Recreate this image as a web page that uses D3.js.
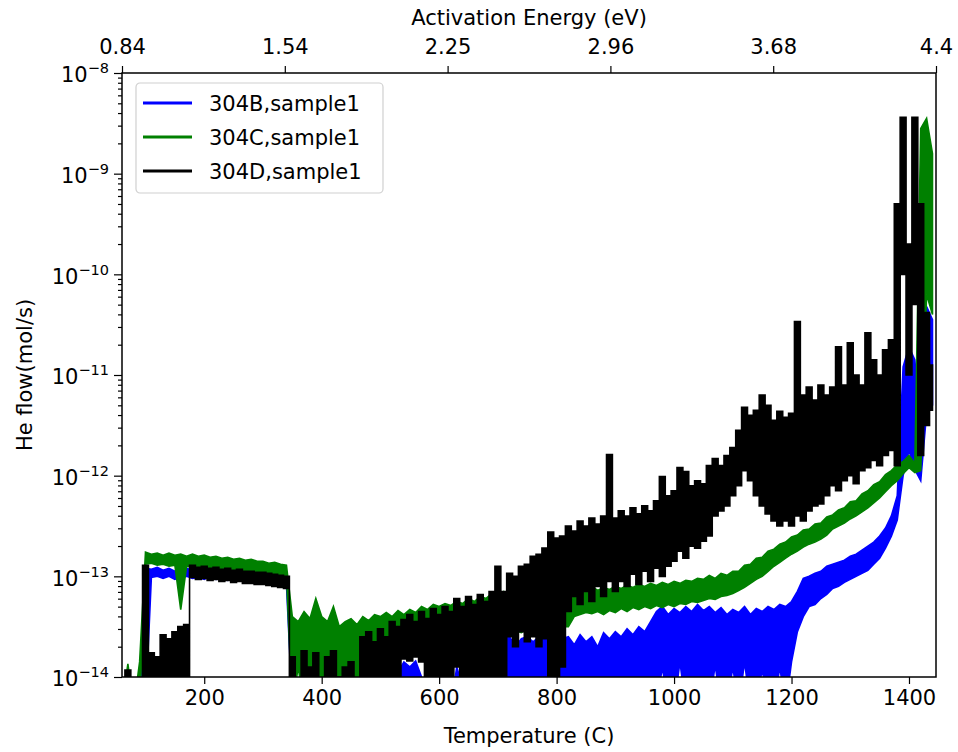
<!DOCTYPE html>
<html>
<head>
<meta charset="utf-8">
<script src="https://cdn.jsdelivr.net/npm/d3@7"></script>
<style>
body { margin: 0; background: #fff; }
text { font-family: "DejaVu Sans", sans-serif; fill: #000; }
</style>
</head>
<body>
<script>
// temperatures (C), one sample every 10 degrees
var temps = d3.range(60, 1441, 10);

// He flow as log10(mol/s); lo / hi = bottom and top of the noisy trace
var blueHi = [
 -14.3,-14.3,-14.3,-14.3,-12.92,-12.93,-12.91,-12.94,-12.92,-12.95,
 -12.93,-12.92,-12.94,-12.93,-12.95,-12.92,-12.95,-12.94,-12.96,-12.94,
 -12.96,-12.95,-12.97,-12.95,-12.98,-12.97,-12.99,-12.98,-13.0,-13.86,
 -14.3,-14.1,-13.73,-14.2,-13.95,-14.3,-14.05,-14.3,-14.1,-14.3,
 -14.0,-14.2,-14.3,-14.05,-14.3,-14.1,-14.3,-13.95,-13.85,-13.9,
 -13.84,-14.0,-14.3,-14.1,-14.3,-14.05,-14.3,-13.9,-14.1,-14.3,
 -14.0,-14.2,-14.05,-14.3,-14.0,-13.62,-13.6,-13.7,-13.62,-13.6,
 -13.65,-13.6,-13.62,-13.58,-13.6,-13.62,-13.6,-13.68,-13.58,-13.65,
 -13.6,-13.7,-13.56,-13.62,-13.55,-13.6,-13.52,-13.58,-13.5,-13.55,
 -13.45,-13.35,-13.3,-13.38,-13.32,-13.36,-13.3,-13.35,-13.28,-13.34,
 -13.3,-13.36,-13.31,-13.38,-13.33,-13.36,-13.3,-13.38,-13.32,-13.35,
 -13.3,-13.33,-13.28,-13.3,-13.25,-13.15,-13.02,-13.0,-12.97,-12.95,
 -12.9,-12.88,-12.86,-12.84,-12.8,-12.78,-12.74,-12.7,-12.66,-12.6,
 -12.52,-12.4,-12.2,-10.92,-10.72,-10.85,-11.6,-10.32,-10.45
];
var blueLo = [
 -14.3,-14.3,-14.3,-14.3,-14.3,-13.01,-13.0,-13.02,-13.0,-13.03,
 -13.01,-13.0,-13.02,-13.01,-13.03,-13.0,-13.03,-13.02,-13.04,-13.02,
 -13.04,-13.03,-13.05,-13.03,-13.06,-13.05,-13.07,-13.06,-13.08,-14.3,
 -14.3,-14.3,-14.3,-14.3,-14.3,-14.3,-14.3,-14.3,-14.3,-14.3,
 -14.3,-14.3,-14.3,-14.3,-14.3,-14.3,-14.3,-14.3,-14.3,-14.3,
 -14.3,-14.3,-14.3,-14.3,-14.3,-14.3,-14.3,-14.3,-14.3,-14.3,
 -14.3,-14.3,-14.3,-14.3,-14.3,-14.3,-14.3,-14.3,-14.3,-14.3,
 -14.3,-14.3,-14.3,-14.3,-14.3,-14.3,-14.3,-14.3,-14.3,-14.3,
 -14.3,-14.3,-14.3,-14.3,-14.3,-14.3,-14.3,-14.3,-14.3,-14.3,
 -14.3,-14.3,-13.9,-14.3,-14.3,-13.85,-14.3,-14.3,-13.95,-14.3,
 -14.3,-13.88,-14.3,-14.3,-13.9,-14.3,-13.85,-14.3,-14.3,-13.92,
 -14.3,-14.3,-13.9,-14.3,-13.85,-13.55,-13.4,-13.3,-13.28,-13.22,
 -13.18,-13.12,-13.1,-13.06,-13.03,-13.0,-12.97,-12.94,-12.88,-12.82,
 -12.72,-12.6,-12.44,-12.0,-11.75,-11.94,-12.05,-11.38,-11.3
];
var greenHi = [
 -14.3,-13.87,-14.3,-13.85,-12.76,-12.78,-12.77,-12.79,-12.77,-12.79,
 -12.78,-12.8,-12.78,-12.8,-12.79,-12.81,-12.8,-12.82,-12.81,-12.83,
 -12.82,-12.84,-12.83,-12.85,-12.85,-12.87,-12.86,-12.88,-12.89,-13.4,
 -13.45,-13.35,-13.42,-13.22,-13.4,-13.45,-13.3,-13.5,-13.45,-13.42,
 -13.48,-13.4,-13.44,-13.38,-13.4,-13.36,-13.4,-13.34,-13.38,-13.33,
 -13.36,-13.3,-13.33,-13.28,-13.3,-13.27,-13.29,-13.25,-13.27,-13.22,
 -13.25,-13.2,-13.22,-13.17,-13.18,-13.15,-13.19,-13.16,-13.2,-13.17,
 -13.18,-13.15,-13.2,-13.14,-13.17,-13.12,-13.08,-13.12,-13.1,-13.13,
 -13.1,-13.14,-13.11,-13.13,-13.1,-13.12,-13.09,-13.11,-13.08,-13.1,
 -13.07,-13.09,-13.06,-13.08,-13.05,-13.07,-13.04,-13.05,-13.02,-13.03,
 -12.99,-13.02,-12.97,-12.99,-12.95,-12.95,-12.89,-12.88,-12.82,-12.81,
 -12.75,-12.73,-12.68,-12.66,-12.61,-12.59,-12.54,-12.53,-12.48,-12.47,
 -12.41,-12.39,-12.34,-12.32,-12.26,-12.25,-12.18,-12.15,-12.09,-12.06,
 -11.99,-11.95,-11.89,-11.86,-11.8,-11.88,-8.55,-8.45,-8.8
];
var greenLo = [
 -14.3,-14.3,-14.3,-14.3,-12.88,-12.87,-12.89,-12.88,-12.9,-12.89,
 -13.33,-12.9,-12.91,-12.9,-12.92,-12.91,-12.93,-12.92,-12.94,-12.93,
 -12.95,-12.94,-12.96,-12.95,-12.97,-12.97,-12.98,-12.99,-13.0,-14.3,
 -13.9,-14.3,-14.0,-14.3,-14.3,-13.95,-14.3,-14.3,-14.0,-14.3,
 -14.3,-13.9,-13.75,-13.8,-13.75,-13.78,-13.72,-13.76,-13.74,-13.78,
 -13.72,-13.75,-13.7,-13.74,-13.72,-13.7,-13.74,-13.7,-13.72,-13.68,
 -13.7,-13.66,-13.68,-13.64,-13.66,-13.55,-13.58,-13.54,-13.56,-13.52,
 -13.55,-13.52,-13.54,-13.5,-13.52,-13.5,-13.5,-13.4,-13.38,-13.36,
 -13.37,-13.35,-13.38,-13.34,-13.36,-13.32,-13.35,-13.31,-13.33,-13.3,
 -13.32,-13.29,-13.31,-13.28,-13.3,-13.27,-13.28,-13.25,-13.26,-13.24,
 -13.22,-13.23,-13.2,-13.19,-13.17,-13.14,-13.11,-13.07,-13.03,-13.0,
 -12.95,-12.9,-12.86,-12.82,-12.78,-12.75,-12.71,-12.68,-12.66,-12.63,
 -12.59,-12.53,-12.5,-12.47,-12.43,-12.4,-12.36,-12.32,-12.27,-12.22,
 -12.16,-12.1,-12.05,-11.98,-11.92,-11.97,-11.95,-10.2,-10.4
];
var blackHi = [
 -14.3,-13.93,-14.3,-14.3,-12.89,-13.76,-13.8,-13.58,-13.62,-13.55,
 -13.5,-13.48,-12.89,-12.91,-12.9,-12.92,-12.91,-12.93,-12.92,-12.94,
 -12.93,-12.95,-12.95,-12.96,-12.96,-12.97,-12.98,-12.99,-13.0,-13.8,
 -14.3,-13.74,-13.9,-13.76,-14.3,-13.8,-13.74,-14.0,-13.9,-13.85,
 -14.3,-13.6,-13.55,-13.65,-13.52,-13.6,-13.45,-13.5,-13.43,-13.38,
 -13.45,-13.35,-13.42,-13.32,-13.38,-13.3,-13.35,-13.22,-13.3,-13.2,
 -13.28,-13.18,-13.25,-13.15,-12.9,-13.15,-12.97,-13.0,-12.9,-12.88,
 -12.8,-12.78,-12.72,-12.56,-12.62,-12.6,-12.5,-12.55,-12.45,-12.5,
 -12.42,-12.48,-12.4,-11.79,-12.42,-12.35,-12.4,-12.32,-12.38,-12.3,
 -12.35,-12.25,-12.01,-12.2,-12.15,-11.92,-11.96,-12.1,-12.05,-12.08,
 -11.9,-11.83,-11.9,-11.8,-11.72,-11.55,-11.32,-11.4,-11.35,-11.2,
 -11.3,-11.45,-11.36,-11.42,-11.38,-10.47,-11.2,-11.12,-11.25,-11.1,
 -11.2,-11.12,-10.72,-11.1,-10.68,-11.0,-11.1,-10.58,-10.85,-11.0,
 -10.75,-10.65,-9.3,-8.44,-9.7,-8.44,-9.3,-10.38,-10.9
];
var blackLo = [
 -14.3,-14.3,-14.3,-14.3,-14.3,-14.3,-14.3,-14.3,-14.3,-14.3,
 -14.3,-14.3,-13.01,-13.03,-13.02,-13.04,-13.03,-13.05,-13.04,-13.06,
 -13.05,-13.07,-13.07,-13.08,-13.08,-13.09,-13.1,-13.11,-13.12,-14.3,
 -14.3,-14.3,-14.3,-14.3,-14.3,-14.3,-14.3,-14.3,-14.3,-14.3,
 -14.3,-14.3,-14.3,-14.3,-14.3,-14.3,-14.3,-14.3,-13.82,-13.84,
 -13.8,-13.85,-14.3,-14.3,-14.3,-14.3,-14.3,-13.9,-14.3,-14.3,
 -14.3,-14.3,-14.3,-14.3,-14.3,-14.1,-13.6,-13.7,-13.55,-13.65,
 -13.6,-13.7,-13.62,-14.0,-14.3,-13.9,-13.35,-13.2,-13.28,-13.15,
 -13.25,-13.1,-13.2,-13.05,-13.15,-13.05,-13.1,-12.98,-13.08,-12.95,
 -13.05,-12.92,-13.0,-12.9,-12.85,-12.75,-12.82,-12.7,-12.72,-12.65,
 -12.6,-12.4,-12.35,-12.3,-12.2,-12.1,-11.95,-12.05,-12.2,-12.3,
 -12.38,-12.45,-12.5,-12.45,-12.5,-12.4,-12.45,-12.35,-12.3,-12.28,
 -12.2,-12.1,-12.15,-12.05,-12.0,-12.08,-11.95,-11.92,-11.85,-11.9,
 -11.8,-11.75,-11.9,-10.0,-11.0,-10.3,-11.8,-11.5,-11.35
];

var seriesNames = ["304B,sample1", "304C,sample1", "304D,sample1"];
var seriesColors = ["#0000ff", "#008000", "#000000"];
var seriesHi = [blueHi, greenHi, blackHi];
var seriesLo = [blueLo, greenLo, blackLo];

// axis ticks
var tempTicks = [200, 400, 600, 800, 1000, 1200, 1400];
var energyTicks = ["0.84", "1.54", "2.25", "2.96", "3.68", "4.4"];
var expTicks = [-14, -13, -12, -11, -10, -9, -8];

var margin = {top: 73, right: 22, bottom: 75, left: 122}
    , width = 958 - margin.left - margin.right
    , height = 752 - margin.top - margin.bottom;

var x = d3.scaleLinear().domain([60, 1446]).range([0, width]);
var xTop = d3.scalePoint().domain(energyTicks).range([0, width]);
var y = d3.scaleLog().domain([1e-14, 1e-8]).range([height, 0]);

var svg = d3.select("body").append("svg")
    .attr("width", width + margin.left + margin.right)
    .attr("height", height + margin.top + margin.bottom)
    .append("g")
    .attr("transform", "translate(" + margin.left + "," + margin.top + ")");

svg.append("clipPath").attr("id", "plot")
    .append("rect").attr("width", width).attr("height", height);

// traces: blue first, black on top; black is the noisiest, drawn stepwise
var seriesCurves = [d3.curveLinear, d3.curveLinear, d3.curveStep];

seriesNames.forEach((name, k) => {
    var area = d3.area()
        .curve(seriesCurves[k])
        .x(d => x(d.t))
        .y0(d => y(Math.pow(10, d.lo)))
        .y1(d => y(Math.pow(10, d.hi)));
    var pts = temps.map((t, i) => ({t: t, lo: seriesLo[k][i], hi: seriesHi[k][i]}));
    svg.append("path")
        .datum(pts)
        .attr("clip-path", "url(#plot)")
        .attr("fill", seriesColors[k])
        .attr("stroke", seriesColors[k])
        .attr("stroke-width", 1.6)
        .attr("d", area);
});

// bottom axis
var gx = svg.append("g")
    .attr("transform", "translate(0," + height + ")")
    .call(d3.axisBottom(x).tickValues(tempTicks).tickFormat(d3.format("d")).tickSize(7).tickPadding(6));

// top axis
var gt = svg.append("g")
    .call(d3.axisTop(xTop).tickSize(7).tickPadding(12));

// left axis, minor ticks first
var minor = [];
expTicks.slice(0, -1).forEach(e => { for (var m = 2; m < 10; m++) minor.push(m * Math.pow(10, e)); });
svg.append("g")
    .call(d3.axisLeft(y).tickValues(minor).tickSize(4).tickFormat(""))
    .select(".domain").remove();

var gy = svg.append("g")
    .call(d3.axisLeft(y).tickValues(expTicks.map(e => Math.pow(10, e))).tickSize(8).tickPadding(5).tickFormat(""));

gy.selectAll(".tick text").each(function(d) {
    var t = d3.select(this);
    t.append("tspan").text("10");
    t.append("tspan").attr("dy", -9).attr("font-size", 14.5)
        .text("\u2212" + Math.abs(Math.round(Math.log10(d))));
});
gy.selectAll(".tick text").attr("dy", "0.42em");

[gx, gt, gy].forEach(g => {
    g.attr("font-size", 21).attr("font-family", "DejaVu Sans, sans-serif");
    g.select(".domain").remove();
});
svg.selectAll(".tick line").attr("stroke", "#000").attr("stroke-width", 1.2);

// frame
svg.append("rect")
    .attr("width", width).attr("height", height)
    .attr("fill", "none").attr("stroke", "#000").attr("stroke-width", 1.5);

// axis labels
svg.append("text")
    .attr("x", width / 2).attr("y", height + 66)
    .attr("text-anchor", "middle").attr("font-size", 21)
    .text("Temperature (C)");

svg.append("text")
    .attr("x", width / 2).attr("y", -48)
    .attr("text-anchor", "middle").attr("font-size", 21)
    .text("Activation Energy (eV)");

svg.append("text")
    .attr("transform", "translate(" + (-90) + "," + (height / 2) + ") rotate(-90)")
    .attr("text-anchor", "middle").attr("font-size", 21)
    .text("He flow(mol/s)");

// legend
var legend = svg.append("g").attr("transform", "translate(14,10)");
legend.append("rect")
    .attr("width", 247).attr("height", 110).attr("rx", 4)
    .attr("fill", "#fff").attr("fill-opacity", 0.8)
    .attr("stroke", "#d0d0d0").attr("stroke-width", 1.2);

seriesNames.forEach((name, k) => {
    var row = legend.append("g").attr("transform", "translate(0," + (20 + k * 34) + ")");
    row.append("line")
        .attr("x1", 7).attr("x2", 56)
        .attr("stroke", seriesColors[k]).attr("stroke-width", 3);
    row.append("text")
        .attr("x", 73).attr("dy", "0.36em").attr("font-size", 21)
        .text(name);
});
</script>
</body>
</html>
